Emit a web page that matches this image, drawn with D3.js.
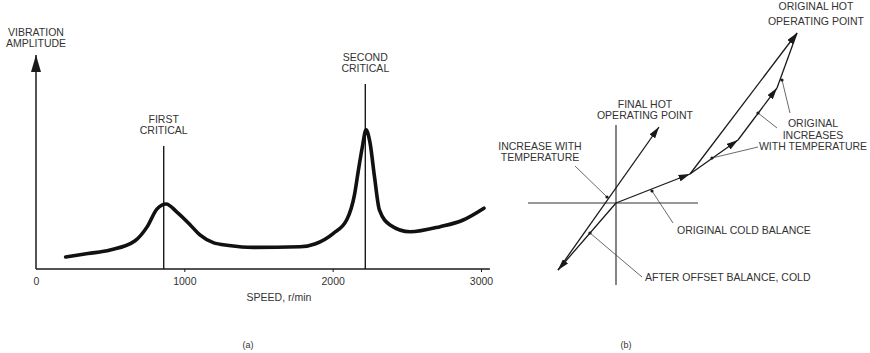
<!DOCTYPE html>
<html>
<head>
<meta charset="utf-8">
<script src="https://cdn.jsdelivr.net/npm/d3@7"></script>
<style>
  html, body { margin: 0; padding: 0; background: #fff; }
  svg { display: block; }
  text { font-family: "Liberation Sans", Arial, Helvetica, sans-serif; font-size: 10.5px; fill: #333; }
</style>
</head>
<body>
<script>
// ---------- (a) vibration amplitude vs speed ----------
const speed     = [200, 350, 500, 668, 750, 815, 877, 950, 1040, 1105, 1195, 1300, 1465, 1780, 1880, 2005, 2095, 2148, 2172, 2200, 2225, 2252, 2282, 2315, 2387, 2522, 2724, 2880, 3020];
const amplitude = [5.6, 7.2, 8.9, 13.2, 19.8, 28.0, 30.4, 26.6, 20.6, 15.9, 12.3, 11.0, 10.1, 10.4, 11.7, 16.7, 23.0, 35.0, 45.5, 57.0, 65.0, 58.9, 43.1, 27.6, 20.6, 17.4, 19.8, 22.9, 28.4];
const speedTicks = [0, 1000, 2000, 3000];
const criticalSpeeds = [861, 2220];
const criticalLabels = [["FIRST", "CRITICAL"], ["SECOND", "CRITICAL"]];
const criticalTop = [57.5, 86.5];           // amplitude where each marker line starts
const yAxisLabel = ["VIBRATION", "AMPLITUDE"];
const xAxisLabel = "SPEED, r/min";

// ---------- (b) vector diagram (units: balance vector components) ----------
const vecNames = ["originalCold", "increase1", "increase2", "increase3", "originalHot", "afterOffset", "increaseTemp"];
const vecFrom  = [[0, 0], [7.4, 2.9], [12.2, 6.3], [16.1, 11.5], [7.4, 2.9], [0, 0], [-5.8, -6.7]];
const vecTo    = [[7.4, 2.9], [12.2, 6.3], [16.1, 11.5], [18.1, 17.0], [18.1, 17.0], [-5.8, -6.7], [4.3, 7.6]];
const vecHead  = [true, true, true, false, true, true, true];
const leaderFrom = [[-4.1, 3.7], [2.6, -7.4], [5.7, -2.0], [16.1, 7.5], [17.4, 9.0], [14.2, 5.6]];
const leaderTo   = [[-0.9, 0.6], [-2.6, -3.0], [3.6, 1.2], [14.2, 9.0], [16.6, 12.3], [9.6, 4.5]];
const labelsB = [
  {lines: ["ORIGINAL HOT", "OPERATING POINT"], at: [20.0, 19.3], anchor: "middle", gap: 14.5},
  {lines: ["FINAL HOT", "OPERATING POINT"], at: [2.9, 9.5], anchor: "middle", gap: 11},
  {lines: ["INCREASE WITH", "TEMPERATURE"], at: [-7.6, 5.3], anchor: "middle", gap: 11},
  {lines: ["ORIGINAL", "INCREASES", "WITH TEMPERATURE"], at: [19.7, 7.6], anchor: "middle", gap: 11.5},
  {lines: ["ORIGINAL COLD BALANCE"], at: [6.1, -3.05], anchor: "start", gap: 0},
  {lines: ["AFTER OFFSET BALANCE, COLD"], at: [2.9, -7.8], anchor: "start", gap: 0}
];
const axesB = {h: [-8.8, 8.2], v: [-8.2, 7.8]};
const panelLabels = ["(a)", "(b)"];

const W = 870, H = 353;
const svg = d3.select("body").append("svg").attr("width", W).attr("height", H);
const ink = "#1a1a1a";

const defs = svg.append("defs");
function marker(id, len, wid) {
  defs.append("marker").attr("id", id)
    .attr("viewBox", `0 0 ${len} ${wid}`).attr("refX", len).attr("refY", wid / 2)
    .attr("markerWidth", len).attr("markerHeight", wid)
    .attr("markerUnits", "userSpaceOnUse").attr("orient", "auto")
    .append("path").attr("d", `M0,0L${len},${wid / 2}L0,${wid}Z`).attr("fill", ink);
}
marker("bigArrow", 17, 10);
marker("arrow", 11.5, 6.8);

// ----- panel (a) -----
const x = d3.scaleLinear().domain([0, 3000]).range([36, 481]);
const y = d3.scaleLinear().domain([0, 100]).range([269, 55]);

const ga = svg.append("g");
// y axis with arrow
ga.append("line").attr("x1", x(0)).attr("x2", x(0)).attr("y1", y(0)).attr("y2", y(100))
  .attr("stroke", ink).attr("stroke-width", 1.5).attr("marker-end", "url(#bigArrow)");
// x axis
const xAxis = d3.axisBottom(x).tickValues(speedTicks).tickSize(3).tickFormat(d3.format("d"));
const gx = ga.append("g").attr("transform", `translate(0,${y(0)})`).call(xAxis);
gx.select(".domain").remove();
gx.selectAll(".tick line").attr("stroke", ink).filter(d => d === 0).remove();
gx.selectAll(".tick text").attr("y", 9).attr("fill", null);
gx.attr("font-family", null).attr("font-size", null);
ga.append("line").attr("x1", x(0)).attr("x2", x(3060)).attr("y1", y(0)).attr("y2", y(0))
  .attr("stroke", ink).attr("stroke-width", 1.5);

// axis labels
yAxisLabel.forEach((t, i) => ga.append("text").attr("x", x(0)).attr("y", 35.5 + i * 11)
  .attr("text-anchor", "middle").text(t));
ga.append("text").attr("x", 279).attr("y", 301).attr("text-anchor", "middle").text(xAxisLabel);

// critical speed markers
criticalSpeeds.forEach((s, i) => {
  ga.append("line").attr("x1", x(s)).attr("x2", x(s)).attr("y1", y(criticalTop[i])).attr("y2", y(0))
    .attr("stroke", ink).attr("stroke-width", 1.4);
  const base = y(criticalTop[i]) - 5.5 - (criticalLabels[i].length - 1) * 11.5;
  criticalLabels[i].forEach((t, j) => ga.append("text").attr("x", x(s)).attr("y", base + j * 11.5 - 6)
    .attr("text-anchor", "middle").text(t));
});

// response curve
const pts = speed.map((s, i) => [s, amplitude[i]]);
ga.append("path").datum(pts)
  .attr("d", d3.line().x(d => x(d[0])).y(d => y(d[1])).curve(d3.curveMonotoneX))
  .attr("fill", "none").attr("stroke", "#111").attr("stroke-width", 3.6)
  .attr("stroke-linecap", "round").attr("stroke-linejoin", "round");

// ----- panel (b) -----
const xb = d3.scaleLinear().domain([0, 1]).range([616, 626]);
const yb = d3.scaleLinear().domain([0, 1]).range([203, 193]);
const gb = svg.append("g");

gb.append("line").attr("x1", xb(axesB.h[0])).attr("x2", xb(axesB.h[1])).attr("y1", yb(0)).attr("y2", yb(0))
  .attr("stroke", "#333").attr("stroke-width", 1.2);
gb.append("line").attr("x1", xb(0)).attr("x2", xb(0)).attr("y1", yb(axesB.v[0])).attr("y2", yb(axesB.v[1]))
  .attr("stroke", "#333").attr("stroke-width", 1.2);

vecNames.forEach((n, i) => {
  gb.append("line").attr("class", n)
    .attr("x1", xb(vecFrom[i][0])).attr("y1", yb(vecFrom[i][1]))
    .attr("x2", xb(vecTo[i][0])).attr("y2", yb(vecTo[i][1]))
    .attr("stroke", ink).attr("stroke-width", 1.3)
    .attr("marker-end", vecHead[i] ? "url(#arrow)" : null);
});

leaderFrom.forEach((f, i) => {
  gb.append("line").attr("x1", xb(f[0])).attr("y1", yb(f[1]))
    .attr("x2", xb(leaderTo[i][0])).attr("y2", yb(leaderTo[i][1]))
    .attr("stroke", "#444").attr("stroke-width", 0.8);
  gb.append("circle").attr("cx", xb(leaderTo[i][0])).attr("cy", yb(leaderTo[i][1])).attr("r", 1.6).attr("fill", ink);
});

labelsB.forEach(l => {
  l.lines.forEach((t, j) => gb.append("text")
    .attr("x", xb(l.at[0])).attr("y", yb(l.at[1]) + j * l.gap)
    .attr("text-anchor", l.anchor).text(t));
});

// panel captions
svg.append("text").attr("x", 248).attr("y", 347.5).attr("text-anchor", "middle").style("font-size", "9px").text(panelLabels[0]);
svg.append("text").attr("x", 626).attr("y", 347.5).attr("text-anchor", "middle").style("font-size", "9px").text(panelLabels[1]);
</script>
</body>
</html>
